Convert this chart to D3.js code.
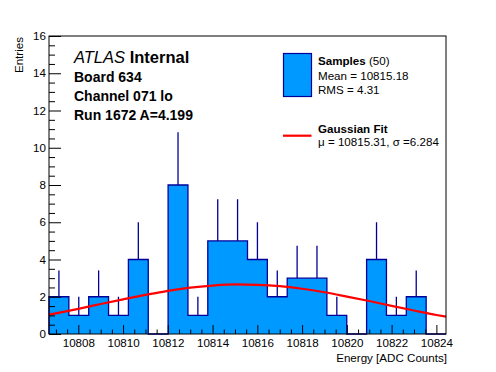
<!DOCTYPE html>
<html>
<head>
<meta charset="utf-8">
<script src="https://cdn.jsdelivr.net/npm/d3@7"></script>
<style>
	body { margin: 0; background: #fff; }
	svg { display: block; font-family: "Liberation Sans", Arial, Helvetica, sans-serif; }
</style>
</head>
<body>
<svg width="496" height="372"></svg>
<script>
// histogram: 20 bins over the range below
var xRange = [10806.69, 10824.43];
var counts = [2, 1, 2, 1, 4, 0, 8, 1, 5, 5, 4, 2, 3, 3, 1, 0, 4, 1, 2, 0];

// gaussian fit curve
var fitX = [10806.69, 10807, 10808, 10809, 10810, 10811, 10812, 10813, 10814, 10815,
	10816, 10817, 10818, 10819, 10820, 10821, 10822, 10823, 10824, 10824.43];
var fitY = [1.04, 1.11, 1.35, 1.61, 1.86, 2.10, 2.32, 2.49, 2.60, 2.66,
	2.64, 2.57, 2.43, 2.24, 2.01, 1.77, 1.51, 1.26, 1.02, 0.93];

var yTicks = [0, 2, 4, 6, 8, 10, 12, 14, 16];
var xTicks = [10808, 10810, 10812, 10814, 10816, 10818, 10820, 10822, 10824];

var infoLines = ["Board 634", "Channel 071 lo", "Run 1672 A=4.199"];

var svg = d3.select("svg"),
	frame = {left: 49, top: 36, right: 446, bottom: 334};

var x = d3.scaleLinear().domain(xRange).range([frame.left, frame.right]);
var y = d3.scaleLinear().domain([0, 16]).range([frame.bottom, frame.top]);

var fillCol = "#0099ff", lineCol = "#000099";
var binW = (xRange[1] - xRange[0]) / counts.length;

// step outline of the histogram
var pts = [[x(xRange[0]), y(0)]];
counts.forEach(function(v, i) {
	var x0 = xRange[0] + i * binW;
	pts.push([x(x0), y(v)]);
	pts.push([x(x0 + binW), y(v)]);
});
pts.push([x(xRange[1]), y(0)]);

svg.append("path")
	.attr("d", d3.line()(pts))
	.attr("fill", fillCol)
	.attr("stroke", lineCol)
	.attr("stroke-width", 1.3);

// error bars (only the upper half shows above the fill)
counts.forEach(function(v, i) {
	if (v <= 0) return;
	var c = xRange[0] + (i + 0.5) * binW;
	svg.append("line")
		.attr("x1", x(c)).attr("x2", x(c))
		.attr("y1", y(v)).attr("y2", y(v + Math.sqrt(v)))
		.attr("stroke", lineCol)
		.attr("stroke-width", 1.3);
});

// fit
var fitLine = d3.line()
	.x(function(d, i) { return x(fitX[i]); })
	.y(function(d) { return y(d); })
	.curve(d3.curveMonotoneX);

svg.append("path")
	.datum(fitY)
	.attr("d", fitLine)
	.attr("fill", "none")
	.attr("stroke", "#ff0000")
	.attr("stroke-width", 2.2);

// frame
svg.append("rect")
	.attr("x", frame.left).attr("y", frame.top)
	.attr("width", frame.right - frame.left).attr("height", frame.bottom - frame.top)
	.attr("fill", "none").attr("stroke", "#000").attr("stroke-width", 1);

// axes
var minorX = d3.range(10807, 10824.5, 0.5).filter(function(t) { return xTicks.indexOf(t) < 0; });
var minorY = d3.range(0.5, 16, 0.5).filter(function(t) { return yTicks.indexOf(t) < 0; });

var gx = svg.append("g").attr("transform", "translate(0," + frame.bottom + ")")
	.call(d3.axisBottom(x).tickValues(xTicks).tickSize(-9).tickPadding(4.6).tickFormat(d3.format("d")));
var gxm = svg.append("g").attr("transform", "translate(0," + frame.bottom + ")")
	.call(d3.axisBottom(x).tickValues(minorX).tickSize(-4.5).tickFormat(""));
var gy = svg.append("g").attr("transform", "translate(" + frame.left + ",0)")
	.call(d3.axisLeft(y).tickValues(yTicks).tickSize(-12).tickPadding(3));
var gym = svg.append("g").attr("transform", "translate(" + frame.left + ",0)")
	.call(d3.axisLeft(y).tickValues(minorY).tickSize(-6).tickFormat(""));

[gx, gxm, gy, gym].forEach(function(g) {
	g.select(".domain").remove();
	g.selectAll("line").attr("stroke", "#000");
	g.selectAll("text").attr("fill", "#000").style("font-size", "11.6px")
		.style("font-family", '"Liberation Sans", Arial, Helvetica, sans-serif');
});

// axis titles
svg.append("text")
	.attr("x", 447).attr("y", 362)
	.attr("text-anchor", "end")
	.style("font-size", "11.6px")
	.text("Energy [ADC Counts]");

svg.append("text")
	.attr("transform", "translate(22.5,37) rotate(-90)")
	.attr("text-anchor", "end")
	.style("font-size", "11.6px")
	.text("Entries");

// labels
var atlas = svg.append("text").attr("x", 74).attr("y", 63).style("font-size", "16.5px");
atlas.append("tspan").style("font-style", "italic").text("ATLAS");
atlas.append("tspan").style("font-weight", "bold").text(" Internal");

infoLines.forEach(function(t, i) {
	svg.append("text")
		.attr("x", 74).attr("y", 82 + i * 18.8)
		.style("font-size", "14px").style("font-weight", "bold")
		.text(t);
});

// legend
svg.append("rect")
	.attr("x", 283.5).attr("y", 53.5).attr("width", 28).attr("height", 43)
	.attr("fill", fillCol).attr("stroke", lineCol).attr("stroke-width", 1.2);

var l1 = svg.append("text").attr("x", 318).attr("y", 65).style("font-size", "11.6px");
l1.append("tspan").style("font-weight", "bold").text("Samples");
l1.append("tspan").text(" (50)");
svg.append("text").attr("x", 318).attr("y", 79.5).style("font-size", "11.6px").text("Mean = 10815.18");
svg.append("text").attr("x", 318).attr("y", 93.5).style("font-size", "11.6px").text("RMS = 4.31");

svg.append("line")
	.attr("x1", 283).attr("x2", 311.5).attr("y1", 135.7).attr("y2", 135.7)
	.attr("stroke", "#ff0000").attr("stroke-width", 2.2);
svg.append("text").attr("x", 318).attr("y", 132.7).style("font-size", "11.6px")
	.style("font-weight", "bold").text("Gaussian Fit");
svg.append("text").attr("x", 318).attr("y", 146).style("font-size", "11.6px")
	.text("\u03bc = 10815.31, \u03c3 =6.284");
</script>
</body>
</html>
